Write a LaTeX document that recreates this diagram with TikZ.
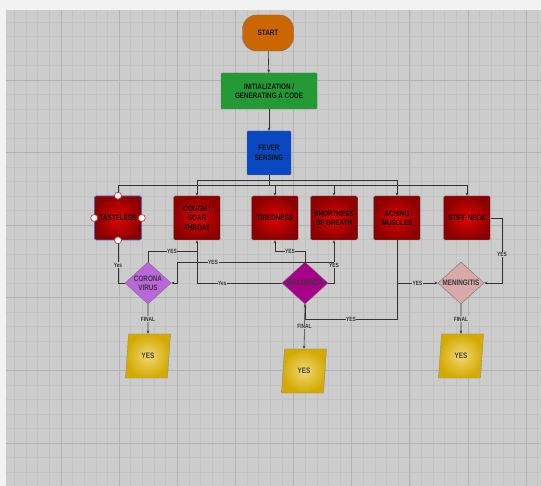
\documentclass[tikz,border=0pt]{standalone}
\usepackage{fontspec}
\newfontfamily\boxfont[FakeStretch=0.8]{Liberation Sans}
\usetikzlibrary{shapes.geometric,arrows.meta}
\definecolor{outerc}{HTML}{F2F2F2}
\definecolor{gridbg}{HTML}{CCCCCC}
\definecolor{gridminor}{HTML}{C2C2C2}
\definecolor{gridmajor}{HTML}{B2B2B2}
\definecolor{startc}{HTML}{CC6600}
\definecolor{initc}{HTML}{239A35}
\definecolor{feverc}{HTML}{0A47C2}
\definecolor{redin}{HTML}{E00404}
\definecolor{redout}{HTML}{8C0000}
\definecolor{coronac}{HTML}{BB66DD}
\definecolor{influc}{HTML}{A8008A}
\definecolor{meningc}{HTML}{D9A8A8}
\definecolor{yelin}{HTML}{EFD873}
\definecolor{yelout}{HTML}{D4AA00}
\definecolor{linec}{HTML}{333333}
\definecolor{tasteblue}{HTML}{3A6FD0}
\definecolor{handlered}{HTML}{C83C3C}
\tikzset{
  base/.style={font=\boxfont\bfseries\fontsize{7.9}{9.4}\selectfont, align=center, inner sep=0pt,
    text=black!92, draw=black!55, line width=0.4pt},
  startbox/.style={base, rounded corners=14pt, fill=startc, minimum width=51pt, minimum height=36pt},
  initbox/.style={base, rounded corners=1pt, fill=initc, minimum width=96pt, minimum height=36pt},
  feverbox/.style={base, rounded corners=1pt, fill=feverc, minimum width=44pt, minimum height=44pt},
  symbox/.style={base, rounded corners=1.5pt, inner color=redin, outer color=redout,
    minimum width=47pt, minimum height=44pt, text=black!95!red},
  dia/.style={base, shape=diamond, minimum width=46pt, minimum height=42pt},
  yesbox/.style={base, shape=trapezium, trapezium left angle=80, trapezium right angle=100,
    trapezium stretches=true, inner color=yelin, outer color=yelout, draw=black!45,
    minimum width=45pt, minimum height=44pt, text=black!75},
  handle/.style={circle, draw=handlered, fill=white, line width=0.7pt, minimum size=7pt, inner sep=0pt},
  conn/.style={draw=linec, line width=0.6pt},
  arr/.style={conn, -{Stealth[length=3.2pt,width=2.6pt]}},
  lbl/.style={font=\boxfont\bfseries\fontsize{6.1}{7}\selectfont, fill=gridbg, inner sep=0.6pt, text=black!80},
  dtext/.style={font=\boxfont\bfseries\fontsize{7.9}{9.4}\selectfont, align=center, text=black!78}
}
\begin{document}
\begin{tikzpicture}[x=1pt,y=-1pt]
\useasboundingbox (0,0) rectangle (541,486);
\fill[outerc] (0,0) rectangle (541,486);
\fill[gridbg] (6,10) rectangle (541,486);
\begin{scope}
\clip (6,10) rectangle (541,486);
\foreach \i in {-5,...,41} \draw[gridminor, line width=0.7pt] ({61+11.63*\i},10) -- ++(0,476);
\foreach \j in {-5,...,28} \draw[gridminor, line width=0.7pt] (6,{80+14.52*\j}) -- ++(535,0);
\foreach \i in {-1,...,8} \draw[gridmajor, line width=0.9pt] ({61+58.15*\i},10) -- ++(0,476);
\foreach \j in {-1,...,6} \draw[gridmajor, line width=0.9pt] (6,{80+72.6*\j}) -- ++(535,0);
\end{scope}

% nodes
\node[startbox] (start) at (268,33) {START};
\node[initbox] (init) at (269,91) {INITIALIZATION /\\GENERATING A CODE};
\node[feverbox] (fever) at (269,153) {FEVER\\SENSING};
\node[symbox, draw=tasteblue, line width=0.6pt] (taste) at (118,218) {TASTELESS};
\node[symbox] (cough) at (197,218) {COUGH /\\SOAR\\THROAT};
\node[symbox] (tired) at (275,218) {TIREDNESS};
\node[symbox] (short) at (334,218) {SHORTNESS\\OF BREATH};
\node[symbox] (aching) at (397,218) {ACHING\\MUSCLES};
\node[symbox] (stiff) at (467,218) {STIFF NECK};
\node[dia, fill=coronac] (corona) at (148,283) {};
\node[dtext] (coronat) at (corona.center) {CORONA\\VIRUS};
\node[dia, fill=influc] (influ) at (305,283) {};
\node[dtext] (influt) at (influ.center) {INFLUENZA};
\node[dia, fill=meningc] (mening) at (461,283) {};
\node[dtext] (meningt) at (mening.center) {MENINGITIS};
\node[yesbox] (yes1) at (148,356) {YES};
\node[yesbox] (yes2) at (304,371) {YES};
\node[yesbox] (yes3) at (461,356) {YES};

\coordinate (busU) at (269,180);
\coordinate (busL) at (269,185);
\coordinate (r251) at (0,251);
\coordinate (r319) at (0,319);
\coordinate (cr1) at (177,262);
\coordinate (sn) at (502,218);

% top connectors
\draw[arr] (start) -- (init);
\draw[arr] (init) -- (fever);
\draw[conn] (fever.south) -- (busL);
\draw[conn] (cough.north |- busU) -- (aching.north |- busU);
\draw[conn] (taste.north |- busL) -- (stiff.north |- busL);
\draw[arr] (cough.north |- busU) -- (cough.north);
\draw[arr] (aching.north |- busU) -- (aching.north);
\draw[conn] (taste.north |- busL) -- (taste.north);
\draw[arr] (tired.north |- busL) -- (tired.north);
\draw[arr] (short.north |- busL) -- (short.north);
\draw[arr] (stiff.north |- busL) -- (stiff.north);

% lower connectors
\draw[conn] (taste.south) |- node[lbl, pos=0.29] {Yes} (corona.west);
\draw[conn] (corona.north) |- node[lbl, pos=0.745] {YES} (cough.south |- r251);
\draw[arr] (influ.west) -| node[lbl, pos=0.35] {Yes} (cough.south);
\draw[arr] (influ.east) -| node[lbl, pos=0.71] {YES} (short.south);
\draw[arr] (short.south |- cr1) -- node[lbl, pos=0.77] {YES} (cr1) |- (corona.east);
\draw[arr] (influ.north) |- node[lbl, pos=0.75] {YES} (tired.south |- r251) -- (tired.south);
\draw[arr] (aching.south) |- node[lbl, pos=0.75] {YES} (influ.south |- r319) -- (influ.south);
\draw[arr] (aching.south |- mening.west) -- node[lbl] {YES} (mening.west);
\draw[arr] (stiff.east) -- (sn) |- node[lbl, pos=0.28] {YES} (mening.east);
\draw[arr] (corona.south) -- node[lbl] {FINAL} (yes1.north);
\draw[arr] (influ.south) -- node[lbl] {FINAL} (yes2.north);
\draw[arr] (mening.south) -- node[lbl] {FINAL} (yes3.north);

% selection handles on TASTELESS
\node[handle] (hn) at (taste.north) {};
\node[handle] (hs) at (taste.south) {};
\node[handle] (he) at (taste.east) {};
\node[handle] (hw) at (taste.west) {};
\end{tikzpicture}
\end{document}
